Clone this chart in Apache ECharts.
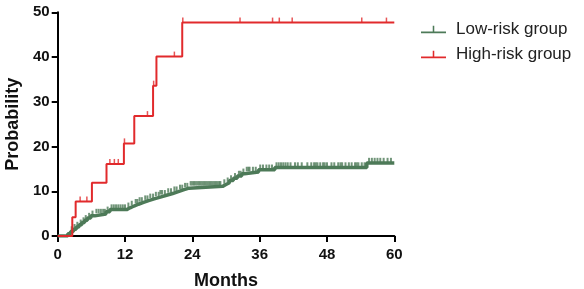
<!DOCTYPE html>
<html><head><meta charset="utf-8">
<script src="https://cdn.jsdelivr.net/npm/echarts@6/dist/echarts.min.js"></script>
<style>html,body{margin:0;padding:0;background:#fff}#c{width:584px;height:289px}</style>
</head><body><div id="c"></div>
<script>
// Cumulative incidence step points [month, probability %]
const lowSteps = [[0,0],[1.8,0.5],[2.3,1.0],[2.8,1.5],[3.3,2.0],[3.8,2.5],[4.3,3.0],[4.8,3.5],[5.3,4.0],[5.9,4.5],[6.6,4.9],[8.6,5.4],[9.3,5.9],[12.3,6.3],[12.9,6.7],[13.6,7.1],[14.4,7.5],[15.3,7.9],[16.2,8.3],[17.2,8.7],[18.3,9.1],[19.4,9.5],[20.5,9.9],[21.5,10.3],[22.4,10.7],[23.4,11.1],[29.4,11.5],[30.0,11.9],[30.6,12.4],[31.3,12.9],[32.0,13.4],[32.8,13.9],[33.3,14.3],[35.8,14.8],[38.7,15.3],[55.1,16.3],[60,16.3]];
const highSteps = [[0,0],[2.6,4.2],[3.2,7.7],[6.1,11.9],[8.7,16.1],[11.8,20.7],[13.65,26.8],[17.0,33.6],[17.6,40.1],[22.2,47.7],[60,47.7]];
// Censoring times (months)
const lowCensor = [2.5,3.0,3.5,4.1,4.6,5.0,5.6,6.2,6.9,7.3,7.7,8.1,8.4,8.9,9.6,10.0,10.4,10.8,11.2,11.6,12.0,12.6,13.2,13.9,14.2,14.6,15.0,15.6,16.0,16.5,17.0,17.5,18.0,18.3,18.6,19.1,19.7,20.2,20.8,21.2,21.8,22.2,22.7,23.1,23.7,24.0,24.3,24.6,24.9,25.2,25.5,25.8,26.1,26.4,26.7,27.0,27.3,27.6,27.9,28.2,28.5,28.8,29.0,29.7,30.3,30.9,31.6,32.3,32.6,33.1,33.7,34.0,34.2,34.8,35.3,36.1,36.6,37.2,37.7,38.2,39.0,39.4,39.8,40.2,40.6,41.0,41.5,42.3,42.8,43.5,44.5,45.2,45.7,46.0,46.3,46.8,47.3,47.6,48.0,48.8,49.3,50.0,50.4,50.7,51.3,51.9,52.4,53.0,53.3,53.6,54.2,54.7,55.5,56.0,56.5,57.0,57.5,58.1,58.8,59.4];
const highCensor = [4.0,5.2,9.3,10.1,10.8,11.9,16.0,17.1,20.8,22.3,32.5,38.3,39.5,41.8,54.2,58.6];
const xTicks = [0,12,24,36,48,60];
const yTicks = [0,10,20,30,40,50];

function valueAt(steps, t){ let v = 0; for (const p of steps){ if (p[0] <= t) v = p[1]; } return v; }
const lowCensorPts = lowCensor.map(t => [t, valueAt(lowSteps, t)]);
const highCensorPts = highCensor.map(t => [t, valueAt(highSteps, t)]);

const RED = '#e12a2c', GREEN = '#4d7a58';
const FONT = 'Arial, "Liberation Sans", sans-serif';
const chart = echarts.init(document.getElementById('c'), null, {renderer:'canvas'});
const icon = 'path://M0,6 L26,6 L26,8 L0,8 Z M12.2,0 L13.8,0 L13.8,8 L12.2,8 Z';
chart.setOption({
  animation:false,
  backgroundColor:'#fff',
  grid:{left:57.7, right:189.7, top:12.3, bottom:53, containLabel:false, outerBoundsMode:'none'},
  legend:{
    orient:'vertical', left:416, top:16, itemWidth:25, itemHeight:8, itemGap:8,
    icon: icon,
    data:['Low-risk group','High-risk group'],
    textStyle:{fontFamily:FONT, fontSize:17, color:'#222', padding:[0,0,0,5]}
  },
  xAxis:{type:'value', min:xTicks[0], max:xTicks[xTicks.length-1], interval:12,
    name:'Months', nameLocation:'middle', nameGap:36,
    nameTextStyle:{fontFamily:FONT, fontSize:18, fontWeight:'bold', color:'#111'},
    axisLine:{lineStyle:{color:'#000', width:2}},
    axisTick:{show:true, length:6, lineStyle:{color:'#000', width:2}},
    axisLabel:{fontFamily:FONT, fontSize:15, fontWeight:'bold', color:'#111', margin:11},
    splitLine:{show:false}},
  yAxis:{type:'value', min:yTicks[0], max:yTicks[yTicks.length-1], interval:10,
    name:'Probability', nameLocation:'middle', nameGap:31, nameRotate:90,
    nameTextStyle:{fontFamily:FONT, fontSize:18, fontWeight:'bold', color:'#111'},
    axisLine:{lineStyle:{color:'#000', width:2}},
    axisTick:{show:true, length:6, lineStyle:{color:'#000', width:2}},
    axisLabel:{fontFamily:FONT, fontSize:15, fontWeight:'bold', color:'#111', margin:8},
    splitLine:{show:false}},
  series:[
    {name:'Low-risk group', type:'line', step:'end', data:lowSteps, showSymbol:false, symbol:'none',
      lineStyle:{color:GREEN, width:3.5}, itemStyle:{color:GREEN}, z:3},
    {name:'Low-risk group', type:'scatter', data:lowCensorPts, symbol:'rect', symbolSize:[2,4.5], symbolOffset:[0,-3],
      itemStyle:{color:GREEN}, z:3, silent:true},
    {name:'High-risk group', type:'line', step:'end', data:highSteps, showSymbol:false, symbol:'none',
      lineStyle:{color:RED, width:2}, itemStyle:{color:RED}, z:4},
    {name:'High-risk group', type:'scatter', data:highCensorPts, symbol:'rect', symbolSize:[1.5,5], symbolOffset:[0,-2.5],
      itemStyle:{color:RED}, z:4, silent:true}
  ]
});
</script></body></html>
